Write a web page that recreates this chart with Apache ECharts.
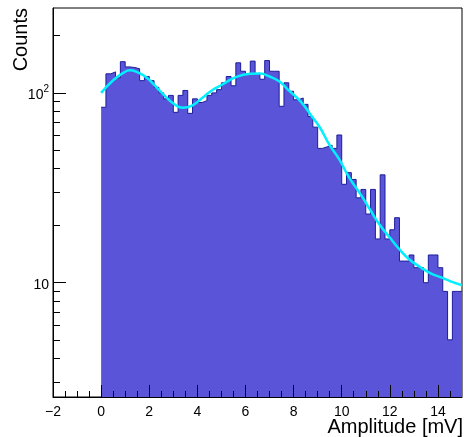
<!DOCTYPE html>
<html><head><meta charset="utf-8">
<script src="https://cdn.jsdelivr.net/npm/echarts@6/dist/echarts.min.js"></script>
<style>html,body{margin:0;padding:0;background:#fff}#c{width:465px;height:437px}</style>
</head><body><div id="c"></div>
<script>
// Histogram: 75 bins of width 0.2 mV from 0 to 15 mV
const binStart = 0;
const binWidth = 0.2;
const counts = [
  84,126,129,120,146,137,136,134,116,122,
  116,107,100,93,97,79,97,103,78,93,
  89,91,97,100,104,113,122,109,144,130,
  126,147,126,118,148,130,130,85,113,102,
  92,94,87,75,66,51,52,53,51,60,
  33,38,35,28,31,23,31,17,37,17,
  19,22,13,13,14,12,12,10,14,14,
  12,9,5,9,9
];
// Fit curve
const fitX = [0,0.5,0.9,1.2,1.5,1.9,2.3,2.7,3.0,3.4,3.8,4.2,4.6,5.0,5.6,6.2,6.6,7.0,7.4,7.8,8.3,8.7,9.1,9.5,9.9,10.3,10.8,11.2,11.6,12.0,12.4,12.8,13.3,13.7,14.1,14.5,15.0];
const fitY = [100,116.5,127,131.5,128.5,120,107,95,88,83.5,86,94,103,110,121,126,126.5,122,115,103,90,77,65.5,53,44.6,36,29,24,20,17.3,15,13.3,12,11.2,10.7,10.2,9.7];
// Axes
const xRange = [-2, 15];
const xMajorTicks = [-2,0,2,4,6,8,10,12,14];
const xMinorTicks = [-1.5,-1,-0.5,0.5,1,1.5,2.5,3,3.5,4.5,5,5.5,6.5,7,7.5,8.5,9,9.5,10.5,11,11.5,12.5,13,13.5,14.5];
const yRange = [2.5, 280];
const yMajorTicks = [10, 100];
const yMinorTicks = [3,4,5,6,7,8,9,20,30,40,50,60,70,80,90,200];
const xTitle = 'Amplitude [mV]';
const yTitle = 'Counts';

const FONT = '"Liberation Sans", Arial, Helvetica, sans-serif';
const histData = counts.map((c, i) => [binStart + i * binWidth, c]);
histData.push([binStart + counts.length * binWidth, counts[counts.length - 1]]);
const fitData = fitX.map((x, i) => [x, fitY[i]]);

const chart = echarts.init(document.getElementById('c'), null, {renderer: 'canvas'});
chart.setOption({
  animation: false,
  backgroundColor: '#fff',
  grid: {left: 53, right: 3, top: 8, bottom: 40, containLabel: false, outerBoundsMode: 'none',
         show: true, borderColor: '#000', borderWidth: 1, backgroundColor: 'transparent'},
  xAxis: [{
    type: 'value', min: xRange[0], max: xRange[1], position: 'bottom', z: 10,
    axisLine: {show: true, onZero: false, lineStyle: {color: '#000', width: 1}},
    axisTick: {show: true, inside: true, length: 12, customValues: xMajorTicks, lineStyle: {color: '#000'}},
    axisLabel: {show: true, customValues: xMajorTicks, margin: 8, color: '#000', fontSize: 14, fontFamily: FONT,
      formatter: v => (v < 0 ? '\u2212' + Math.abs(v) : String(v))},
    splitLine: {show: false}
  }, {
    type: 'value', min: xRange[0], max: xRange[1], position: 'bottom', z: 10,
    axisLine: {show: false, onZero: false},
    axisTick: {show: true, inside: true, length: 6, customValues: xMinorTicks, lineStyle: {color: '#000'}},
    axisLabel: {show: false},
    splitLine: {show: false}
  }],
  yAxis: [{
    type: 'log', min: yRange[0], max: yRange[1], position: 'left', z: 10,
    axisLine: {show: true, onZero: false, lineStyle: {color: '#000', width: 1}},
    axisTick: {show: true, inside: true, length: 13, customValues: yMajorTicks, lineStyle: {color: '#000'}},
    axisLabel: {show: true, customValues: yMajorTicks, margin: 4, color: '#000', fontSize: 14, fontFamily: FONT,
      formatter: v => (Math.round(v) === 100 ? '{n|10}{s|2}' : '{n|' + Math.round(v) + '}'),
      rich: {
        n: {fontSize: 14, fontFamily: FONT, color: '#000', lineHeight: 18, verticalAlign: 'bottom'},
        s: {fontSize: 10, fontFamily: FONT, color: '#000', lineHeight: 10, verticalAlign: 'top'}
      }},
    splitLine: {show: false}
  }, {
    type: 'log', min: yRange[0], max: yRange[1], position: 'left', z: 10,
    axisLine: {show: false, onZero: false},
    axisTick: {show: true, inside: true, length: 7, customValues: yMinorTicks, lineStyle: {color: '#000'}},
    axisLabel: {show: false},
    splitLine: {show: false}
  }],
  graphic: [
    {type: 'text', x: 463, y: 417, style: {text: xTitle, font: '20px ' + FONT, fill: '#000', textAlign: 'right', textVerticalAlign: 'top'}},
    {type: 'text', x: 11, y: 8, rotation: Math.PI / 2, style: {text: yTitle, font: '20px ' + FONT, fill: '#000', textAlign: 'right', textVerticalAlign: 'top'}}
  ],
  series: [{
    type: 'line', xAxisIndex: 0, yAxisIndex: 0, step: 'end', data: histData,
    showSymbol: false, symbol: 'none',
    lineStyle: {color: '#1c1c9a', width: 1},
    areaStyle: {color: '#5a55d8', opacity: 1, origin: 'start'},
    z: 2
  }, {
    type: 'line', xAxisIndex: 0, yAxisIndex: 0, smooth: true, data: fitData,
    showSymbol: false, symbol: 'none',
    lineStyle: {color: '#00f0ff', width: 2.5},
    z: 3
  }]
});
</script></body></html>
